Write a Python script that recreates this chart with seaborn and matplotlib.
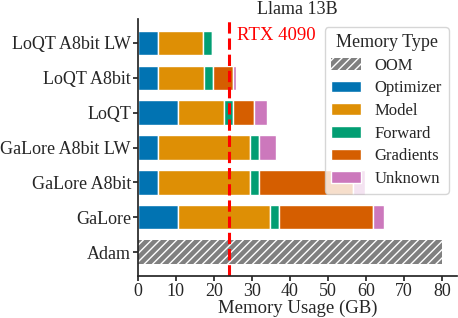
import matplotlib.pyplot as plt
import seaborn as sns
import numpy as np

methods = ['LoQT A8bit LW', 'LoQT A8bit', 'LoQT', 'GaLore A8bit LW', 'GaLore A8bit', 'GaLore', 'Adam']
parts = ['Optimizer', 'Model', 'Forward', 'Gradients', 'Unknown']
optimizer = [5.2, 5.2, 10.6, 5.2, 5.2, 10.6, 0]
model = [12.0, 12.2, 12.1, 24.3, 24.3, 24.2, 0]
forward = [2.2, 2.4, 2.3, 2.4, 2.4, 2.4, 0]
gradients = [0, 5.2, 5.6, 0, 24.6, 24.6, 0]
unknown = [0.4, 0.9, 3.4, 4.4, 3.4, 3.1, 0]
oom = [0, 0, 0, 0, 0, 0, 80]
gpu_limit = 24

sns.set_theme(style='ticks', palette='colorblind')
plt.rcParams['font.family'] = ['Liberation Serif', 'DejaVu Serif']
plt.rcParams['hatch.color'] = 'white'
plt.rcParams['hatch.linewidth'] = 1.0

fig = plt.figure(figsize=(4.58, 3.18), dpi=100)
ax = fig.add_axes([0.301, 0.132, 0.697, 0.808])

colors = sns.color_palette('colorblind')
y = np.arange(len(methods))[::-1]

ax.barh(y, oom, height=0.7, color='gray', hatch='////', edgecolor='white', linewidth=0, label='OOM')
left = np.zeros(len(methods))
for name, vals, c in zip(parts, [optimizer, model, forward, gradients, unknown], colors[:5]):
    vals = np.array(vals, dtype=float)
    m = vals > 0
    ax.barh(y[m], vals[m], left=left[m], height=0.7, color=c, edgecolor='white', linewidth=1, label=name)
    left += vals

ax.axvline(gpu_limit, color='red', linestyle='--', linewidth=2.2)
ax.text(gpu_limit + 2, 6.2, 'RTX 4090', color='red', fontsize=13.5, va='center')

ax.set_yticks(y)
ax.set_yticklabels(methods, fontsize=13)
ax.tick_params(axis='both', length=3.5, pad=1.5)
ax.tick_params(axis='x', labelsize=13)
ax.set_xlabel('Memory Usage (GB)', fontsize=13.5, labelpad=0)
ax.set_title('Llama 13B', fontsize=13, pad=4)
ax.set_xticks(range(0, 90, 10))
sns.despine(ax=ax)

ax.legend(title='Memory Type', loc='upper right', fontsize=12, title_fontsize=13,
          framealpha=0.8, labelspacing=0.4, handlelength=1.8)

fig.savefig('out.png', dpi=100)
